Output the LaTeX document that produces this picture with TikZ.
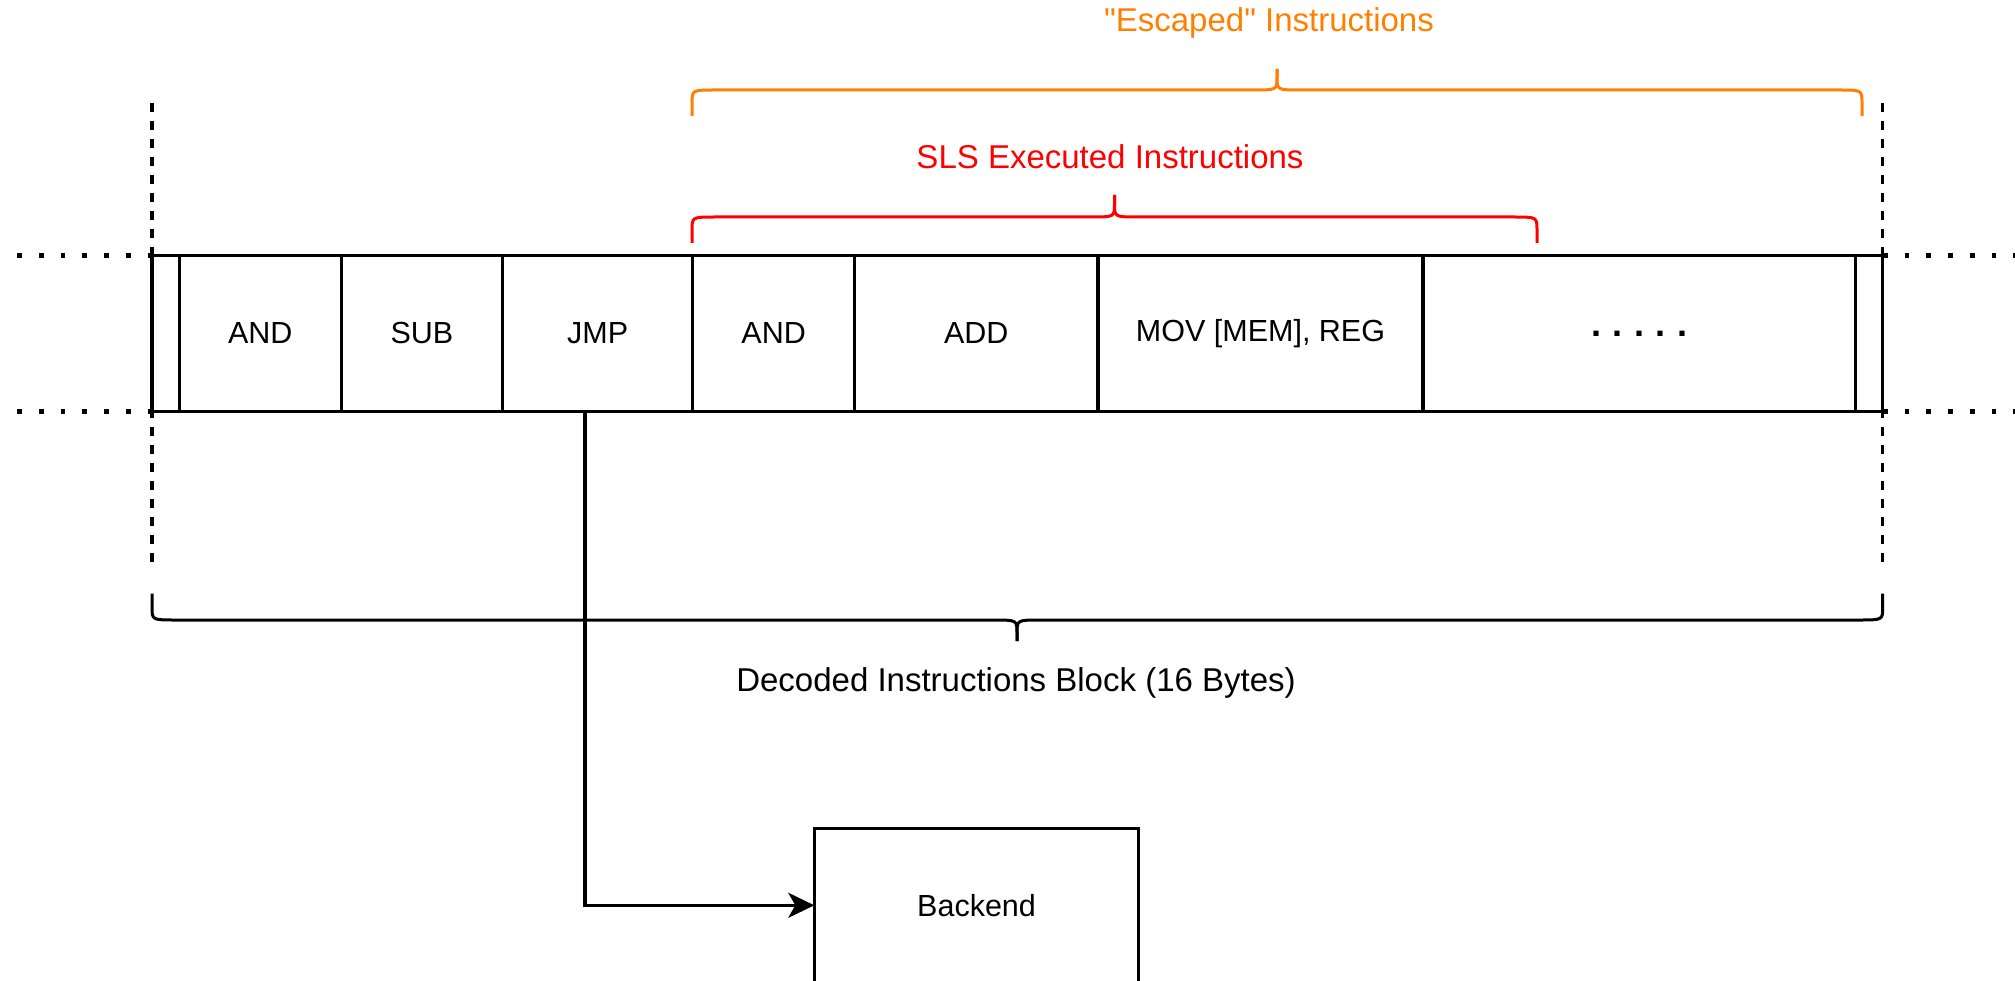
\documentclass[tikz,border=0pt]{standalone}
\usepackage{fontspec}
\setmainfont{Liberation Sans}[Ligatures=TeXOff]
\usetikzlibrary{arrows.meta}
\definecolor{escorange}{HTML}{FF8000}
\definecolor{slsred}{HTML}{FF0000}
\newcommand\dgfont{\fontsize{30.5}{36}\selectfont}
\newcommand\capfont{\fontsize{33}{40}\selectfont}

\begin{document}
\begin{tikzpicture}[x=1pt,y=-1pt,
  line/.style={line width=3.1pt},
  cell/.style={draw, line width=3.1pt, minimum height=155.5pt, inner sep=0pt,
    outer sep=0pt, font=\dgfont},
  lbl/.style={font=\capfont, inner sep=0pt},
  dotline/.style={line width=4.7pt, dash pattern=on 4.7pt off 17pt},
  dashline/.style={line width=3.2pt, dash pattern=on 9pt off 9pt},
  bracepath/.style={line width=3pt, line cap=butt}]
\clip (0,0) rectangle (2015,981);

% dotted continuation of the instruction stream
\draw[dotline] (17.3,255.7) -- (152,255.7);
\draw[dotline] (17.3,411.3) -- (152,411.3);
\draw[dotline] (1883,255.7) -- (2015,255.7);
\draw[dotline] (1883,411.3) -- (2015,411.3);

% block limits
\draw[dashline] (152,103) -- (152,566);
\draw[dashline] (1882.7,103) -- (1882.7,566);

% instruction cells
\node[cell, minimum width=27.3pt]  (edgeL) at (165.65,333.5) {};
\node[cell, minimum width=162pt]   (and1)  at (260.3,333.5)  {AND};
\node[cell, minimum width=161.2pt] (sub)   at (421.9,333.5)  {SUB};
\node[cell, minimum width=190.2pt] (jmp)   at (597.6,333.5)  {JMP};
\node[cell, minimum width=161.9pt] (and2)  at (773.65,333.5) {AND};
\node[cell, minimum width=243.4pt] (add)   at (976.3,333.5)  {ADD};
\node[cell, minimum width=325pt]   (mov)   at (1260.5,333.5) {MOV [MEM], REG};
\node[cell, minimum width=432.5pt] (more)  at (1639.25,333.5)
  {\fontsize{36}{36}\selectfont\bfseries
   .\hspace{11.6pt}.\hspace{11.6pt}.\hspace{11.6pt}.\hspace{11.6pt}.\hspace{16pt}};
\node[cell, minimum width=27.2pt]  (edgeR) at (1869.1,333.5) {};

% backend unit
\node[cell, minimum width=324.5pt, minimum height=154pt, anchor=north west]
  (backend) at (814.3,828.3) {Backend};

\draw[line, -{Stealth[length=26pt, width=25pt, inset=7pt]}]
  ([xshift=-12.6pt]jmp.south) |- (backend.west);

% "Escaped" brace
\begin{scope}[bracepath, draw=escorange]
\draw (692,116) -- (692,103) .. controls (692,90) .. (716,90) -- (1253,90)
  .. controls (1277,90) .. (1277,77) -- (1277,69);
\draw (1862,116) -- (1862,103) .. controls (1862,90) .. (1838,90) -- (1301,90)
  .. controls (1277,90) .. (1277,77) -- (1277,69);
\end{scope}
\node[lbl, text=escorange] (esc) at (1269,23) {"Escaped" Instructions};

% SLS brace
\begin{scope}[bracepath, draw=slsred]
\draw (692,243) -- (692,230) .. controls (692,217) .. (716,217) -- (1090.5,217)
  .. controls (1114.5,217) .. (1114.5,204) -- (1114.5,195);
\draw (1537,243) -- (1537,230) .. controls (1537,217) .. (1513,217) -- (1138.5,217)
  .. controls (1114.5,217) .. (1114.5,204) -- (1114.5,195);
\end{scope}
\node[lbl, text=slsred] (sls) at (1110,157) {SLS Executed Instructions};

% decoded block brace
\begin{scope}[bracepath, draw=black]
\draw (152,593.7) -- (152,607) .. controls (152,620) .. (176,620) -- (993,620)
  .. controls (1017,620) .. (1017,633) -- (1017,641);
\draw (1882.7,593.7) -- (1882.7,607) .. controls (1882.7,620) .. (1858.7,620) -- (1041,620)
  .. controls (1017,620) .. (1017,633) -- (1017,641);
\end{scope}
\node[lbl] (blk) at (1016,683) {Decoded Instructions Block (16 Bytes)};
\end{tikzpicture}
\end{document}
